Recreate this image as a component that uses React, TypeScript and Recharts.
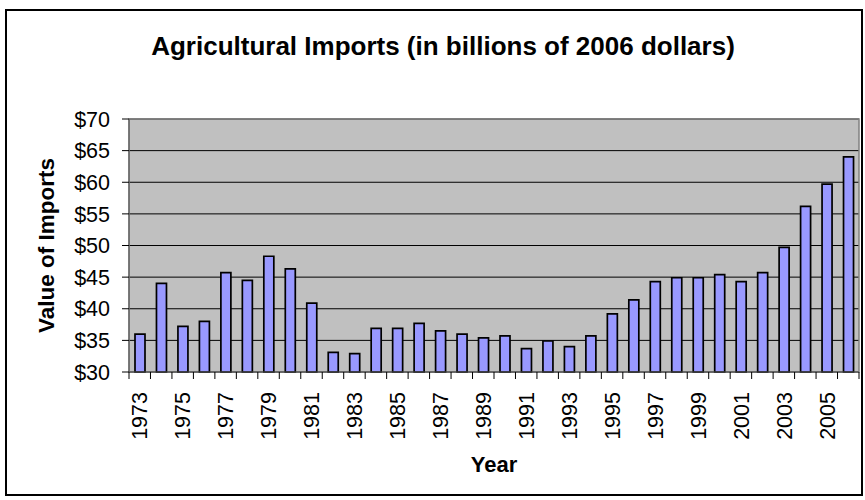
import React from "react";
import { BarChart, Bar, XAxis, YAxis, CartesianGrid, ReferenceArea } from "recharts";

const FONT = '"Liberation Sans", Arial, sans-serif';

const years = [
  "1973", "1974", "1975", "1976", "1977", "1978", "1979", "1980", "1981", "1982",
  "1983", "1984", "1985", "1986", "1987", "1988", "1989", "1990", "1991", "1992",
  "1993", "1994", "1995", "1996", "1997", "1998", "1999", "2000", "2001", "2002",
  "2003", "2004", "2005", "2006",
];

// billions of 2006 dollars
const imports = [
  36.0, 44.0, 37.2, 38.0, 45.7, 44.5, 48.3, 46.3, 40.9, 33.1,
  32.9, 36.9, 36.9, 37.7, 36.5, 36.0, 35.4, 35.7, 33.7, 34.9,
  34.0, 35.7, 39.2, 41.4, 44.3, 44.9, 44.9, 45.4, 44.3, 45.7,
  49.7, 56.2, 59.7, 64.0,
];

const yTicks = [30, 35, 40, 45, 50, 55, 60, 65, 70];

const data = years.map((year, i) => ({ year, value: imports[i] }));

function YearTick(props: any) {
  const { x, y, payload, index } = props;
  const half = payload.offset ?? 0;
  return (
    <g>
      <line x1={x - half} x2={x - half} y1={y} y2={y + 7} stroke="#000" />
      {index === years.length - 1 && (
        <line x1={x + half} x2={x + half} y1={y} y2={y + 7} stroke="#000" />
      )}
      {index % 2 === 0 && (
        <text
          x={x}
          y={y + 20}
          dy="0.36em"
          transform={`rotate(-90 ${x} ${y + 20})`}
          textAnchor="end"
          fontFamily={FONT}
          fontSize={21.5}
          fill="#000"
        >
          {payload.value}
        </text>
      )}
    </g>
  );
}

export default function App() {
  return (
    <div style={{ position: "absolute", left: 0, top: 0, width: 865, height: 500, background: "#fff" }}>
      <div
        style={{
          position: "absolute",
          left: 5,
          top: 9,
          width: 858,
          height: 487,
          boxSizing: "border-box",
          border: "2px solid #000",
        }}
      />
      <div
        style={{
          position: "absolute",
          left: 0,
          top: 33,
          width: 886,
          textAlign: "center",
          fontFamily: FONT,
          fontWeight: 700,
          fontSize: 26,
          lineHeight: "26px",
          color: "#000",
        }}
      >
        Agricultural Imports (in billions of 2006 dollars)
      </div>
      <div style={{ position: "absolute", left: 0, top: 0 }}>
        <BarChart
          width={865}
          height={500}
          data={data}
          margin={{ top: 119, right: 6, bottom: 0, left: 0 }}
          barSize={10}
        >
          <CartesianGrid fill="#C0C0C0" stroke="#000" vertical={false} />
          <ReferenceArea y1={30} y2={70} fill="none" stroke="#808080" strokeWidth={1.5} />
          <XAxis
            dataKey="year"
            interval={0}
            height={128}
            tickSize={0}
            tickMargin={0}
            tickLine={false}
            axisLine={{ stroke: "#555" }}
            tick={<YearTick />}
            label={{
              content: ({ viewBox }: any) => (
                <text
                  x={viewBox.x + viewBox.width / 2}
                  y={viewBox.y + 100}
                  textAnchor="middle"
                  fontFamily={FONT}
                  fontWeight={700}
                  fontSize={22}
                  fill="#000"
                >
                  Year
                </text>
              ),
            }}
          />
          <YAxis
            width={129}
            domain={[30, 70]}
            ticks={yTicks}
            interval={0}
            tickSize={7}
            tickMargin={12}
            tickLine={{ stroke: "#000" }}
            axisLine={{ stroke: "#555" }}
            tickFormatter={(v: number) => `$${v}`}
            tick={{ fontFamily: FONT, fontSize: 21.5, fill: "#000" }}
            label={{
              content: ({ viewBox }: any) => {
                const cy = viewBox.y + viewBox.height / 2;
                return (
                  <text
                    x={46}
                    y={cy}
                    dy="0.36em"
                    transform={`rotate(-90 46 ${cy})`}
                    textAnchor="middle"
                    fontFamily={FONT}
                    fontWeight={700}
                    fontSize={22.5}
                    fill="#000"
                  >
                    Value of Imports
                  </text>
                );
              },
            }}
          />
          <Bar dataKey="value" fill="#9999FF" stroke="#000" strokeWidth={1.7} isAnimationActive={false} />
        </BarChart>
      </div>
    </div>
  );
}
